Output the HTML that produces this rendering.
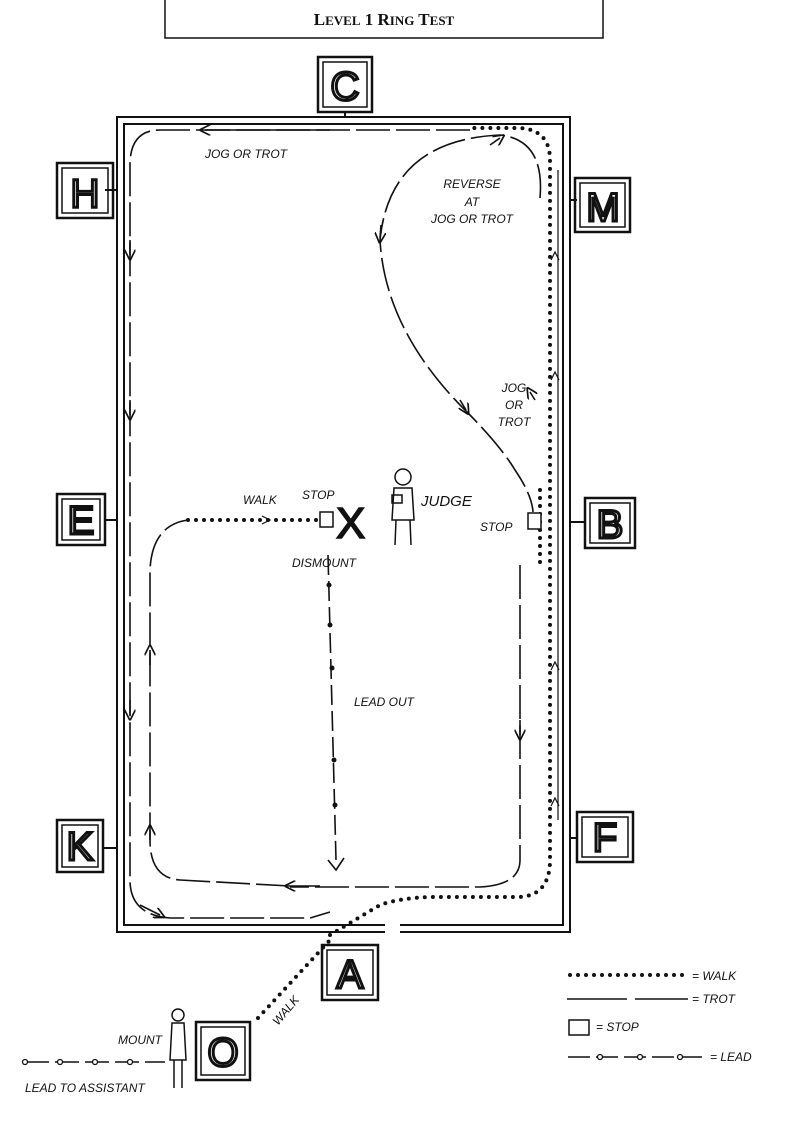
<!DOCTYPE html>
<html><head><meta charset="utf-8"><style>
html,body{margin:0;padding:0;background:#fff;}
svg{display:block}
text{font-family:"Liberation Sans",sans-serif;font-style:italic;fill:#111}
</style></head><body>
<svg width="795" height="1134" viewBox="0 0 795 1134" xmlns="http://www.w3.org/2000/svg">
<defs>
<marker id="ar" viewBox="0 0 10 10" refX="5" refY="5" markerWidth="7" markerHeight="7" orient="auto-start-reverse"><path d="M0,0 L10,5 L0,10" fill="none" stroke="#111" stroke-width="1.5"/></marker>
</defs>
<path d="M165,0 V38 H603 V0" fill="none" stroke="#111" stroke-width="1.5"/>
<text x="384" y="25" text-anchor="middle" style="font-family:'Liberation Serif',serif;font-style:normal;font-weight:bold;font-size:17px">L<tspan font-size="13">EVEL</tspan> 1 R<tspan font-size="13">ING</tspan> T<tspan font-size="13">EST</tspan></text>
<g fill="none" stroke="#111" stroke-width="2">
<path d="M385,932 H117 V117 H570 V932 H400"/>
<path d="M385,925 H124 V124 H563 V925 H400"/>
<line x1="345" y1="112" x2="345" y2="117"/>
<line x1="105" y1="190" x2="117" y2="190"/><line x1="570" y1="200" x2="577" y2="200"/>
<line x1="105" y1="520" x2="117" y2="520"/><line x1="570" y1="522" x2="585" y2="522"/>
<line x1="103" y1="848" x2="117" y2="848"/><line x1="570" y1="838" x2="577" y2="838"/>
</g>
<g fill="none" stroke="#111" stroke-width="2.5">
<rect x="318" y="57" width="54" height="55"/><rect x="323" y="62" width="44" height="45" stroke-width="1.5"/>
<rect x="57" y="163" width="56" height="55"/><rect x="62" y="168" width="46" height="45" stroke-width="1.5"/>
<rect x="575" y="178" width="55" height="54"/><rect x="580" y="183" width="45" height="44" stroke-width="1.5"/>
<rect x="57" y="494" width="48" height="51"/><rect x="62" y="499" width="38" height="41" stroke-width="1.5"/>
<rect x="585" y="498" width="50" height="50"/><rect x="590" y="503" width="40" height="40" stroke-width="1.5"/>
<rect x="57" y="820" width="46" height="52"/><rect x="62" y="825" width="36" height="42" stroke-width="1.5"/>
<rect x="577" y="812" width="56" height="50"/><rect x="582" y="817" width="46" height="40" stroke-width="1.5"/>
<rect x="322" y="945" width="56" height="55"/><rect x="327" y="950" width="46" height="45" stroke-width="1.5"/>
<rect x="196" y="1022" width="54" height="58"/><rect x="201" y="1027" width="44" height="48" stroke-width="1.5"/>
</g>
<g style="font-family:'Liberation Sans',sans-serif;font-size:40px" text-anchor="middle" stroke="#111" stroke-width="3">
<text x="345" y="100" style="font-style:normal;fill:#fff">C</text>
<text x="85" y="207" style="font-style:normal;fill:#fff">H</text>
<text x="603" y="221" style="font-style:normal;fill:#fff">M</text>
<text x="81" y="534" style="font-style:normal;fill:#fff">E</text>
<text x="610" y="538" style="font-style:normal;fill:#fff">B</text>
<text x="80" y="860" style="font-style:normal;fill:#fff">K</text>
<text x="605" y="851" style="font-style:normal;fill:#fff">F</text>
<text x="350" y="988" style="font-style:normal;fill:#fff">A</text>
<text x="223" y="1066" style="font-style:normal;fill:#fff">O</text>
</g>
<g fill="none" stroke="#111" stroke-width="1.6" stroke-dasharray="34 6">
<path d="M470,130 H160 Q130,130 130,165 V880 Q130,915 170,918 H310 L330,912"/>
<path d="M540,198 Q545,140 500,135 Q390,140 380,240 Q385,330 465,410 Q500,445 515,470 Q532,495 533,512"/>
<path d="M520,565 V860 Q520,885 480,887 H290"/>
<path d="M290,886 L180,880 Q150,878 150,840 V570 Q152,525 188,520"/>
</g>
<g fill="none" stroke="#111" stroke-width="1.6">
<path d="M330,130 L205,130" marker-end="url(#ar)"/>
<path d="M130,240 V255" marker-end="url(#ar)"/>
<path d="M130,400 V415" marker-end="url(#ar)"/>
<path d="M130,700 V715" marker-end="url(#ar)"/>
<path d="M140,905 L160,915" marker-end="url(#ar)"/>
<path d="M150,665 V650" marker-end="url(#ar)"/>
<path d="M150,840 V830" marker-end="url(#ar)"/>
<path d="M320,886 L290,886" marker-end="url(#ar)"/>
<path d="M381,225 L380,238" marker-end="url(#ar)"/>
<path d="M460,400 L466,410" marker-end="url(#ar)"/>
<path d="M490,145 L500,138" marker-end="url(#ar)"/>
<path d="M520,720 V735" marker-end="url(#ar)"/>
<path d="M535,400 L530,392" marker-end="url(#ar)"/>
</g>
<g fill="none" stroke="#111" stroke-width="4" stroke-linecap="round" stroke-dasharray="0 8">
<path d="M258,1018 L330,940"/>
<path d="M330,935 L380,905 Q400,898 430,897 H520 Q550,895 550,860 V160 Q550,130 520,128 H470"/>
<path d="M540,490 V565"/>
<path d="M188,520 H318"/>
</g>
<g fill="none" stroke="#111" stroke-width="1.2">
<path d="M558,820 V520 V170"/>
<path d="M551,806 L555,798 L559,806"/><path d="M551,670 L555,662 L559,670"/><path d="M551,380 L555,372 L559,380"/><path d="M551,260 L555,252 L559,260"/>
<path d="M262,516 L270,520 L262,524"/>
</g>
<g fill="none" stroke="#111" stroke-width="1.6">
<path d="M328,555 L336,860" stroke-dasharray="20 6"/>
<path d="M328,860 L336,870 L344,858"/>
<path d="M25,1062 H165" stroke-dasharray="24 6"/>
</g>
<g fill="#111"><circle cx="329" cy="585" r="2.5"/><circle cx="330" cy="625" r="2.5"/><circle cx="332" cy="668" r="2.5"/><circle cx="334" cy="760" r="2.5"/><circle cx="335" cy="805" r="2.5"/></g>
<g fill="#fff" stroke="#111" stroke-width="1.3"><circle cx="25" cy="1062" r="2.5"/><circle cx="60" cy="1062" r="2.5"/><circle cx="95" cy="1062" r="2.5"/><circle cx="130" cy="1062" r="2.5"/></g>
<rect x="320" y="512" width="13" height="15" fill="#fff" stroke="#111" stroke-width="1.5"/>
<rect x="528" y="513" width="13" height="16" fill="#fff" stroke="#111" stroke-width="1.5"/>
<text x="336" y="538" style="font-style:normal;font-size:44px;font-family:'Liberation Sans',sans-serif" stroke="#111" stroke-width="1.5">X</text>
<g fill="none" stroke="#111" stroke-width="1.5">
<circle cx="403" cy="477" r="8"/><path d="M394,488 H412 L414,520 H392 Z"/><path d="M396,520 L395,545 M410,520 L411,545"/><rect x="392" y="495" width="10" height="8"/>
<circle cx="178" cy="1015" r="6"/><path d="M172,1023 H184 L186,1060 H170 Z M174,1060 V1088 M182,1060 V1088"/>
</g>
<g font-size="12">
<text x="205" y="158">JOG OR TROT</text>
<text x="472" y="188" text-anchor="middle">REVERSE</text><text x="472" y="206" text-anchor="middle">AT</text><text x="472" y="223" text-anchor="middle">JOG OR TROT</text>
<text x="514" y="392" text-anchor="middle">JOG</text><text x="514" y="409" text-anchor="middle">OR</text><text x="514" y="426" text-anchor="middle">TROT</text>
<text x="243" y="504">WALK</text><text x="302" y="499">STOP</text>
<text x="421" y="506" font-size="15">JUDGE</text><text x="480" y="531">STOP</text>
<text x="292" y="567">DISMOUNT</text><text x="354" y="706">LEAD OUT</text>
<text x="118" y="1044">MOUNT</text><text x="25" y="1092">LEAD TO ASSISTANT</text>
<text x="0" y="0" transform="translate(278,1026) rotate(-50)">WALK</text>
<text x="692" y="980">= WALK</text><text x="692" y="1003">= TROT</text><text x="596" y="1031">= STOP</text><text x="710" y="1061">= LEAD</text>
</g>
<path d="M570,975 H688" fill="none" stroke="#111" stroke-width="4" stroke-linecap="round" stroke-dasharray="0 8"/>
<path d="M567,999 H688" fill="none" stroke="#111" stroke-width="1.5" stroke-dasharray="60 8"/>
<rect x="569" y="1020" width="20" height="15" fill="none" stroke="#111" stroke-width="1.5"/>
<path d="M568,1057 H705" fill="none" stroke="#111" stroke-width="1.5" stroke-dasharray="22 6"/>
<g fill="#fff" stroke="#111" stroke-width="1.3"><circle cx="600" cy="1057" r="2.5"/><circle cx="640" cy="1057" r="2.5"/><circle cx="680" cy="1057" r="2.5"/></g>
</svg>
</body></html>
